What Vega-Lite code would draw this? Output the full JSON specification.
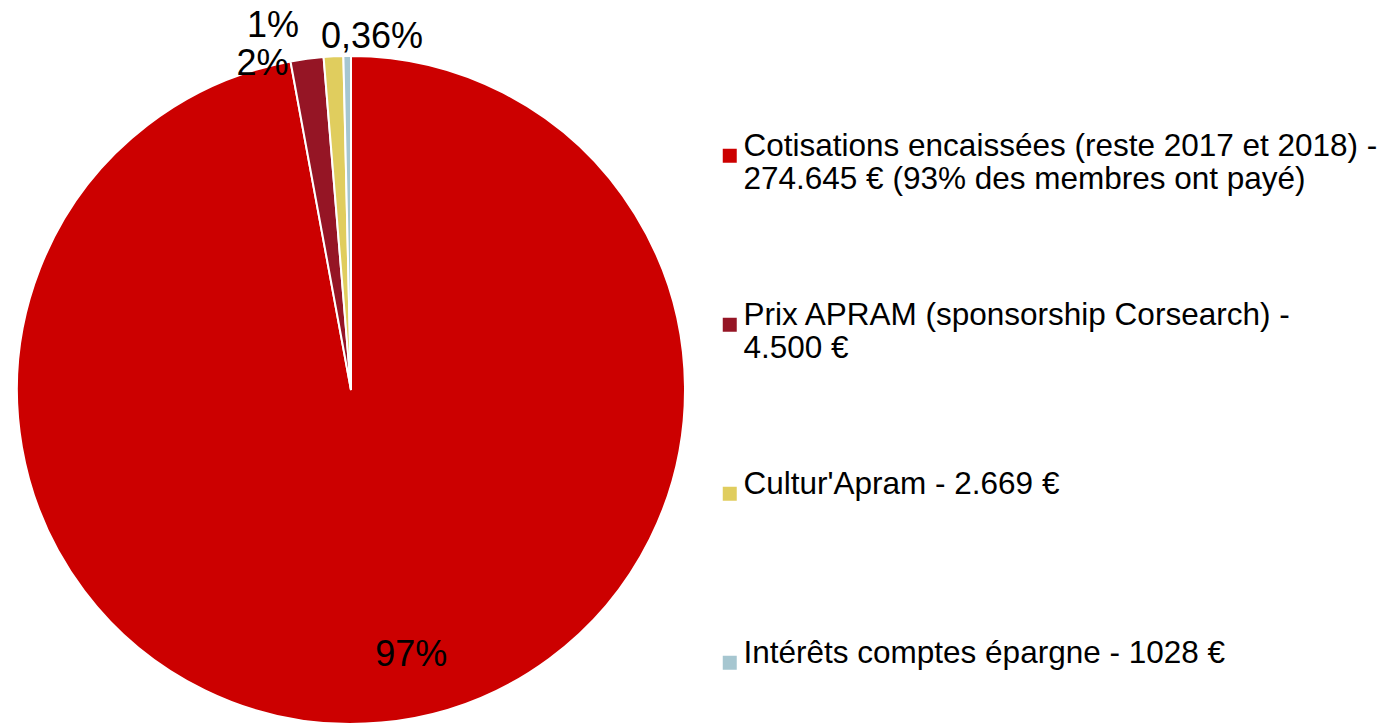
{
  "$schema": "https://vega.github.io/schema/vega-lite/v6.json",
  "width": 702,
  "height": 780,
  "padding": 0,
  "background": "white",
  "config": {"view": {"stroke": null}, "font": "Liberation Sans"},
  "data": {"values": [
    {"n": 1, "cat": "Cotisations encaissées (reste 2017 et 2018) - 274.645 € (93% des membres ont payé)", "value": 274645, "pct": "97%"},
    {"n": 2, "cat": "Prix APRAM (sponsorship Corsearch) - 4.500 €", "value": 4500, "pct": "2%"},
    {"n": 3, "cat": "Cultur'Apram - 2.669 €", "value": 2669, "pct": "1%"},
    {"n": 4, "cat": "Intérêts comptes épargne - 1028 €", "value": 1028, "pct": "0,36%"}
  ]},
  "encoding": {
    "theta": {"field": "value", "type": "quantitative", "stack": true},
    "order": {"field": "n", "type": "quantitative"}
  },
  "layer": [
    {
      "mark": {"type": "arc", "outerRadius": 334, "stroke": "white", "strokeWidth": 2},
      "encoding": {
        "color": {
          "field": "cat", "type": "nominal",
          "sort": ["Cotisations encaissées (reste 2017 et 2018) - 274.645 € (93% des membres ont payé)", "Prix APRAM (sponsorship Corsearch) - 4.500 €", "Cultur'Apram - 2.669 €", "Intérêts comptes épargne - 1028 €"],
          "scale": {"range": ["#CC0000", "#951525", "#E0CD5E", "#A6C6D0"]},
          "legend": {
            "title": null,
            "orient": "none",
            "legendX": 714,
            "legendY": 140,
            "padding": 0,
            "symbolType": "square",
            "symbolSize": 196,
            "symbolStrokeWidth": 0,
            "symbolOpacity": 1,
            "labelFont": "Liberation Sans",
            "labelFontSize": 31.5,
            "labelColor": "black",
            "labelLimit": 1000,
            "labelOffset": -2,
            "labelBaseline": "alphabetic",
            "labelLineHeight": 36,
            "gridAlign": "all",
            "rowPadding": 103,
            "labelExpr": "test(/\\) - /, datum.label) ? [slice(datum.label, 0, indexof(datum.label, ') - ') + 3), slice(datum.label, indexof(datum.label, ') - ') + 4)] : datum.label"
          }
        }
      }
    },
    {
      "mark": {"type": "text", "radius": 266, "dx": 36, "fontSize": 36, "font": "Liberation Sans", "color": "black", "align": "center", "baseline": "middle"},
      "encoding": {"text": {"condition": {"test": "datum.n === 1", "field": "pct"}, "value": ""}}
    },
    {
      "mark": {"type": "text", "radius": 345, "dx": -43, "dy": 16, "fontSize": 36, "font": "Liberation Sans", "color": "black", "align": "center", "baseline": "middle"},
      "encoding": {"text": {"condition": {"test": "datum.n === 2", "field": "pct"}, "value": ""}}
    },
    {
      "mark": {"type": "text", "radius": 345, "dx": -60, "dy": -19, "fontSize": 36, "font": "Liberation Sans", "color": "black", "align": "center", "baseline": "middle"},
      "encoding": {"text": {"condition": {"test": "datum.n === 3", "field": "pct"}, "value": ""}}
    },
    {
      "mark": {"type": "text", "radius": 345, "dx": 25, "dy": -8, "fontSize": 36, "font": "Liberation Sans", "color": "black", "align": "center", "baseline": "middle"},
      "encoding": {"text": {"condition": {"test": "datum.n === 4", "field": "pct"}, "value": ""}}
    }
  ]
}
